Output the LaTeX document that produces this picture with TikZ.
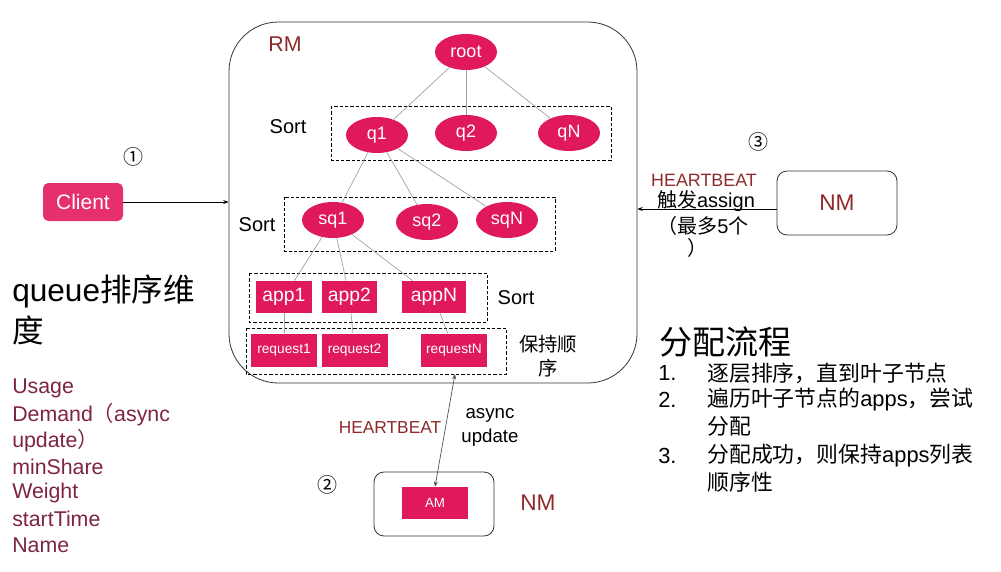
\documentclass[tikz,border=0pt]{standalone}
\usepackage{fontspec}
\setmainfont{Liberation Sans}
\newfontfamily\cjk{Noto Sans CJK SC}
\usetikzlibrary{arrows.meta,shapes.geometric}
\definecolor{pinkn}{HTML}{E0185C}
\definecolor{clientc}{HTML}{E6306D}
\definecolor{darkred}{HTML}{8E2A2A}
\definecolor{maroonc}{HTML}{7E2346}
\begin{document}
\begin{tikzpicture}[x=0.75pt,y=-0.75pt,
  ell/.style={ellipse,fill=pinkn,text=white,minimum width=46.5pt,minimum height=27pt,inner sep=0pt,font=\fontsize{13.5}{14}\selectfont},
  appbox/.style={rectangle,fill=pinkn,text=white,minimum height=24pt,inner sep=0pt,font=\fontsize{14.5}{15}\selectfont},
  reqbox/.style={rectangle,fill=pinkn,text=white,minimum width=49.5pt,minimum height=24.75pt,inner sep=0pt,font=\fontsize{10.3}{11}\selectfont},
  tree/.style={draw=gray!75,line width=0.5pt},
  dbox/.style={draw=black,dash pattern=on 2.5pt off 1.5pt,line width=0.5pt},
  txt/.style={inner sep=0pt},
  arr/.style={-{Stealth[length=4pt,width=3pt]},line width=0.5pt},
  birr/.style={{Stealth[length=4pt,width=3pt]}-{Stealth[length=4pt,width=3pt]},line width=0.5pt,draw=black!70},
  roundbox/.style={draw=black!80,line width=0.6pt,rounded corners=7.5pt,minimum width=90pt,minimum height=48pt,inner sep=0pt},
  circnum/.style={inner sep=0pt,font=\cjk\fontsize{15}{15}\selectfont},
  item/.style={inner sep=0pt,anchor=west,font=\fontsize{16.4}{17}\selectfont},
  dim/.style={inner sep=0pt,anchor=west,text=maroonc,font=\fontsize{16}{17}\selectfont},
]
\useasboundingbox (0,0) rectangle (1001,572);
\fill[white] (0,0) rectangle (1001,572);

% RM container
\node[draw=black!80,rounded corners=37pt,minimum width=306pt,minimum height=270.75pt,line width=0.6pt] (rm) at (433,202.5) {};
\node[txt,text=darkred,font=\fontsize{16}{16}\selectfont] (rmlabel) at (285,44) {RM};

% dashed groups
\draw[dbox] (331,106) rectangle (611,160);
\draw[dbox] (284,197) rectangle (555,251);
\draw[dbox] (249,273) rectangle (487,322);
\draw[dbox] (246,328) rectangle (506,374);

% tree nodes
\node[ell] (root) at (466,52) {root};
\node[ell] (q1) at (377,135) {q1};
\node[ell] (q2) at (466,133) {q2};
\node[ell] (qN) at (569,133) {qN};
\node[ell] (sq1) at (333,220) {sq1};
\node[ell] (sq2) at (427,222) {sq2};
\node[ell] (sqN) at (507,220) {sqN};
\node[appbox,minimum width=42pt] (app1) at (284,297) {app1};
\node[appbox,minimum width=41.25pt] (app2) at (349.5,297) {app2};
\node[appbox,minimum width=48pt] (appN) at (434,297) {appN};
\node[reqbox] (req1) at (284,350) {request1};
\node[reqbox] (req2) at (354.5,350) {request2};
\node[reqbox] (reqN) at (454,350) {requestN};

\draw[tree] (root) -- (q1);
\draw[tree] (root) -- (q2);
\draw[tree] (root) -- (qN);
\draw[tree] (q1) -- (sq1);
\draw[tree] (q1) -- (sq2);
\draw[tree] (q1) -- (sqN);
\draw[tree] (sq1) -- (app1);
\draw[tree] (sq1) -- (app2);
\draw[tree] (sq1) -- (appN);
\draw[tree] (app1) -- (req1);
\draw[tree] (app2) -- (req2);
\draw[tree] (appN) -- (reqN);

% Sort labels
\node[txt,font=\fontsize{15}{15}\selectfont] (sort1) at (288,127) {Sort};
\node[txt,font=\fontsize{15}{15}\selectfont] (sort2) at (257,225) {Sort};
\node[txt,font=\fontsize{15}{15}\selectfont] (sort3) at (516,298) {Sort};
\node[txt,align=center,font=\cjk\fontsize{14.5}{18}\selectfont] (keep) at (548,356) {保持顺\\序};

% Client
\node[rectangle,rounded corners=4pt,fill=clientc,text=white,minimum width=60pt,minimum height=28.5pt,inner sep=0pt,font=\fontsize{15.75}{16}\selectfont] (client) at (83,202) {Client};
\draw[arr] (client.east) -- (client.east -| rm.west);
\node[circnum] (c1) at (133,157) {①};

% NM right
\node[roundbox] (nm) at (837,203) {};
\node[txt,text=darkred,font=\fontsize{17}{17}\selectfont] (nmlabel) at (nm) {NM};
\draw[arr] ([yshift=-4.5pt]nm.west) -- ([yshift=-4.5pt]nm.west -| rm.east);
\node[circnum] (c3) at (758,142) {③};
\node[txt,text=darkred,font=\fontsize{13.4}{14}\selectfont] (hb1) at (704,180) {HEARTBEAT};
\node[txt,font=\fontsize{15}{15}\selectfont] (trig) at (706,201) {{\cjk 触发}assign};
\node[txt,font=\fontsize{15}{15}\selectfont] (most) at (703,226) {{\cjk （最多}5{\cjk 个}};
\node[txt,font=\cjk\fontsize{15}{15}\selectfont] (close) at (697,248) {）};

% AM / NM bottom
\node[roundbox] (nm2) at (434,504) {};
\node[rectangle,fill=pinkn,text=white,minimum width=49.5pt,minimum height=24pt,inner sep=0pt,font=\fontsize{10}{10}\selectfont] (am) at (435,503) {AM};
\coordinate (hbend) at (455,374);
\draw[birr] (am.north) -- (hbend);
\node[txt,text=darkred,font=\fontsize{13}{14}\selectfont] (hb2) at (390,428) {HEARTBEAT};
\node[txt,align=center,font=\fontsize{14}{18}\selectfont] (async) at (490,427) {async\\update};
\node[circnum] (c2) at (327,485) {②};
\node[txt,text=darkred,font=\fontsize{17}{17}\selectfont] (nmlabel2) at (538,503) {NM};

% left text
\node[txt,anchor=west,font=\fontsize{23.7}{24}\selectfont] (qt1) at (12,291) {queue{\cjk 排序维}};
\node[txt,anchor=west,font=\cjk\fontsize{23.7}{24}\selectfont] (qt2) at (12,330) {度};
\node[dim] (d1) at (12,388) {Usage};
\node[dim] (d2) at (12,415) {Demand{\cjk （}async};
\node[dim] (d3) at (12,441) {update{\cjk ）}};
\node[dim] (d4) at (12,467) {minShare};
\node[dim] (d5) at (12,493) {Weight};
\node[dim] (d6) at (12,519) {startTime};
\node[dim] (d7) at (12,545) {Name};

% right text
\node[txt,anchor=west,font=\cjk\fontsize{24.75}{25}\selectfont] (flow) at (659,342) {分配流程};
\node[item] (n1) at (658,373) {1.};
\node[item] (t1) at (707,373) {\cjk 逐层排序，直到叶子节点};
\node[item] (n2) at (658,400) {2.};
\node[item] (t2) at (707,400) {{\cjk 遍历叶子节点的}apps{\cjk ，尝试}};
\node[item] (t2b) at (707,426) {\cjk 分配};
\node[item] (n3) at (658,456) {3.};
\node[item] (t3) at (707,456) {{\cjk 分配成功，则保持}apps{\cjk 列表}};
\node[item] (t3b) at (707,482) {\cjk 顺序性};
\end{tikzpicture}
\end{document}
